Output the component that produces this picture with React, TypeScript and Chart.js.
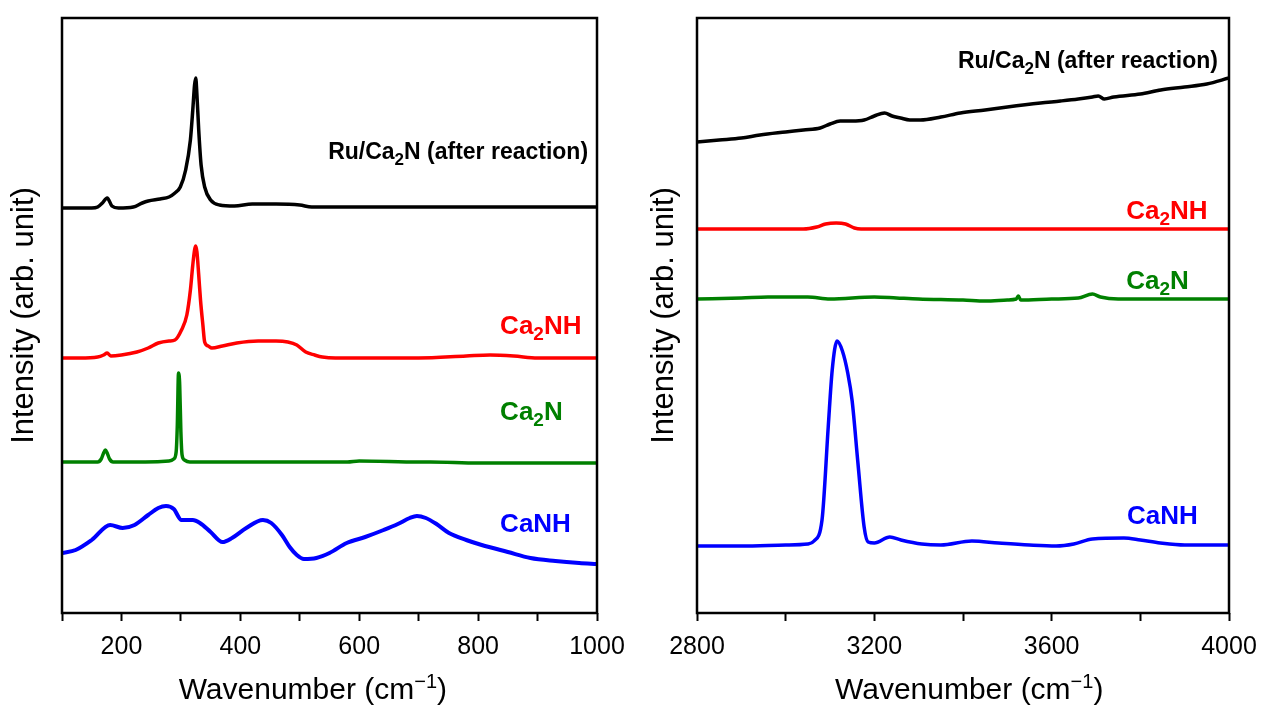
import React, { useEffect, useRef } from 'react';
import { Chart, registerables } from 'chart.js';
Chart.register(...registerables);

// ---------- Left panel (low wavenumber) ----------
const L_RU_X = [100,130,150,160,168,176,184,195,220,235,245,265,280,290,299,308,316,320,323,325,327,330,334,340,350,365,390,420,460,500,520,560,600,700,800,900,1000];
const L_RU_Y = [405,405,405,406,410,415,407,405,406,410,412,414,416,420,426,443,473,503,528,535,518,483,448,426,413,408,407,409,409,408,406,406,406,406,406,406,406];

const L_CA2NH_X = [100,130,160,170,176,182,200,226,245,262,280,290,301,310,316,320,323,325,327,330,333,337,340,346,352,370,394,430,460,480,495,510,525,538,560,600,700,780,820,860,900,1000];
const L_CA2NH_Y = [255,255,256,258,260,257,258,261,265,270,272,273,283,298,323,348,363,367,361,338,313,288,271,267,265,267,270,272,272,271,268,261,258,256,255,255,255,257,258,257,255,255];

const L_CA2N_X = [100,140,160,166,170,173,176,180,186,240,280,288,292,294,296,298,300,302,306,315,400,580,600,700,720,800,1000];
const L_CA2N_Y = [151,151,151,154,160,163,160,154,151,151,152,154,161,188,240,228,181,158,153,151,151,151,152,151,151,150,150];

const L_CANH_X = [100,123,150,181,202,222,245,262,275,288,301,320,332,350,370,386,410,438,452,470,483,495,507,528,550,579,610,641,665,685,697,712,730,751,780,806,850,888,930,970,1000];
const L_CANH_Y = [60,63,73,88,85,88,98,105,107,104,93,93,90,81,71,75,85,93,90,78,66,58,54,55,60,70,76,83,89,95,97,95,89,80,73,68,61,55,52,50,49];

// ---------- Right panel (high wavenumber) ----------
const R_RU_X = [2800,2850,2900,2942,3000,3040,3078,3100,3123,3150,3177,3200,3223,3240,3259,3280,3304,3350,3394,3450,3500,3575,3620,3660,3692,3705,3719,3740,3800,3846,3900,3950,4000];
const R_RU_Y = [471,473,475,478,481,483,485,489,492,492,493,497,500,497,495,493,493,496,500,503,506,510,512,514,516,517,514,516,519,523,526,529,535];

const R_CA2NH_X = [2800,3000,3040,3070,3090,3114,3135,3155,3170,3200,3500,3800,4000];
const R_CA2NH_Y = [384,384,384,386,389,390,389,385,384,384,384,384,384];

const R_CA2N_X = [2800,2900,2960,3000,3050,3100,3200,3250,3300,3400,3450,3500,3520,3525,3530,3600,3660,3692,3710,3750,3850,4000];
const R_CA2N_Y = [314,315,316,316,316,314,316,315,314,313,312,313,314,317,313,314,315,319,316,314,314,314];

const R_CANH_X = [2800,2900,3000,3050,3064,3082,3096,3105,3116,3128,3140,3150,3163,3177,3186,3200,3235,3260,3307,3350,3420,3480,3550,3610,3650,3692,3763,3800,3845,3900,4000];
const R_CANH_Y = [67,67,68,69,72,93,186,243,272,262,240,212,150,86,71,70,76,73,69,68,72,70,68,67,69,74,75,73,70,68,68];

// ---------- Axis ranges / ticks ----------
const Y_MIN = 0;
const Y_MAX = 595;
const L_X_RANGE = [100, 1000];
const R_X_RANGE = [2800, 4000];
const L_TICK_STEP = 100;
const L_LABEL_STEP = 200;
const R_TICK_STEP = 200;
const R_LABEL_STEP = 400;

// ---------- Text ----------
const Y_TITLE = 'Intensity (arb. unit)';
const X_TITLE_PARTS: [string, boolean][] = [['Wavenumber (cm', false], ['\u22121', true], [')', false]];
const L_X_TITLE_AT = 522;
const R_X_TITLE_AT = 3414;

const L_LABELS = [
  { x: 985, y: 460, align: 'right', size: 23, color: '#000000', parts: [['Ru/Ca', false], ['2', true], ['N (after reaction)', false]] },
  { x: 837, y: 286, align: 'left', size: 26, color: '#ff0000', parts: [['Ca', false], ['2', true], ['NH', false]] },
  { x: 837, y: 200, align: 'left', size: 26, color: '#008000', parts: [['Ca', false], ['2', true], ['N', false]] },
  { x: 837, y: 88, align: 'left', size: 26, color: '#0000ff', parts: [['CaNH', false]] },
];
const R_LABELS = [
  { x: 3975, y: 551, align: 'right', size: 23, color: '#000000', parts: [['Ru/Ca', false], ['2', true], ['N (after reaction)', false]] },
  { x: 3768, y: 401, align: 'left', size: 26, color: '#ff0000', parts: [['Ca', false], ['2', true], ['NH', false]] },
  { x: 3768, y: 331, align: 'left', size: 26, color: '#008000', parts: [['Ca', false], ['2', true], ['N', false]] },
  { x: 3770, y: 96, align: 'left', size: 26, color: '#0000ff', parts: [['CaNH', false]] },
];

const FONT = "'Liberation Sans', Arial, Helvetica, sans-serif";

const zip = (xs: number[], ys: number[]) => xs.map((x, i) => ({ x, y: ys[i] }));

const framePlugin = {
  id: 'frame',
  afterDraw(chart: any) {
    const { ctx, chartArea } = chart;
    ctx.save();
    ctx.strokeStyle = '#000';
    ctx.lineWidth = 2.5;
    ctx.strokeRect(chartArea.left, chartArea.top, chartArea.right - chartArea.left, chartArea.bottom - chartArea.top);
    ctx.restore();
  },
};

const labelPlugin = {
  id: 'subLabels',
  afterDraw(chart: any, _args: any, opts: any) {
    const { ctx, scales, chartArea } = chart;
    const items = opts.items || [];
    ctx.save();
    ctx.textBaseline = 'middle';
    ctx.textAlign = 'left';
    for (const it of items) {
      const size = it.size;
      const subSize = Math.round(size * 0.72);
      let w = 0;
      for (const [t, sub] of it.parts) {
        ctx.font = `bold ${sub ? subSize : size}px ${FONT}`;
        w += ctx.measureText(t).width;
      }
      const px = scales.x.getPixelForValue(it.x);
      const py = scales.y.getPixelForValue(it.y);
      let x = it.align === 'right' ? px - w : px;
      ctx.fillStyle = it.color;
      for (const [t, sub] of it.parts) {
        ctx.font = `bold ${sub ? subSize : size}px ${FONT}`;
        ctx.fillText(t, x, sub ? py + size * 0.3 : py);
        x += ctx.measureText(t).width;
      }
    }
    // x-axis title with superscript
    const tsize = 30;
    const supSize = 20;
    let tw = 0;
    for (const [t, sup] of X_TITLE_PARTS) {
      ctx.font = `${sup ? supSize : tsize}px ${FONT}`;
      tw += ctx.measureText(t).width;
    }
    let tx = scales.x.getPixelForValue(opts.titleAt) - tw / 2;
    const ty = chartArea.bottom + 78;
    ctx.fillStyle = '#000';
    for (const [t, sup] of X_TITLE_PARTS) {
      ctx.font = `${sup ? supSize : tsize}px ${FONT}`;
      ctx.fillText(t, tx, sup ? ty - 9 : ty);
      tx += ctx.measureText(t).width;
    }
    ctx.restore();
  },
};

function makeConfig(
  series: { x: number[]; y: number[]; color: string; width: number }[],
  xRange: number[],
  tickStep: number,
  labelStep: number,
  yAxisWidth: number,
  rightPad: number,
  labels: any[],
  titleAt: number
): any {
  return {
    type: 'line',
    data: {
      datasets: series.map((s) => ({
        data: zip(s.x, s.y),
        borderColor: s.color,
        borderWidth: s.width,
        pointRadius: 0,
        fill: false,
        cubicInterpolationMode: 'monotone',
      })),
    },
    options: {
      animation: false,
      responsive: false,
      layout: { padding: { top: 18, right: rightPad, bottom: 0, left: 0 } },
      plugins: {
        legend: { display: false },
        tooltip: { enabled: false },
        subLabels: { items: labels, titleAt },
      },
      scales: {
        x: {
          type: 'linear',
          min: xRange[0],
          max: xRange[1],
          border: { display: false },
          grid: {
            display: true,
            drawOnChartArea: false,
            drawTicks: true,
            tickLength: 8,
            tickWidth: 2,
            tickColor: '#000',
            color: '#000',
          },
          ticks: {
            stepSize: tickStep,
            autoSkip: false,
            maxRotation: 0,
            padding: 11,
            color: '#000',
            font: { family: FONT, size: 25 },
            callback: (v: number) => (v % labelStep === 0 ? String(v) : ''),
          },
          title: { display: false },
          afterFit: (scale: any) => {
            scale.height = 104;
            scale.paddingLeft = 0;
            scale.paddingRight = 0;
          },
        },
        y: {
          type: 'linear',
          min: Y_MIN,
          max: Y_MAX,
          border: { display: false },
          grid: { display: false },
          ticks: { display: false },
          title: {
            display: true,
            text: Y_TITLE,
            color: '#000',
            font: { family: FONT, size: 31 },
            padding: { top: 6, bottom: 0 },
          },
          afterFit: (scale: any) => {
            scale.width = yAxisWidth;
          },
        },
      },
    },
    plugins: [framePlugin, labelPlugin],
  };
}

function Panel(props: { width: number; left: number; cfg: any }) {
  const ref = useRef<HTMLCanvasElement | null>(null);
  useEffect(() => {
    if (!ref.current) return;
    const chart = new Chart(ref.current, props.cfg);
    return () => chart.destroy();
  }, []);
  return (
    <canvas
      ref={ref}
      width={props.width}
      height={717}
      style={{ position: 'absolute', left: props.left, top: 0, width: props.width, height: 717 }}
    />
  );
}

export default function App() {
  const leftCfg = makeConfig(
    [
      { x: L_RU_X, y: L_RU_Y, color: '#000000', width: 3.5 },
      { x: L_CA2NH_X, y: L_CA2NH_Y, color: '#ff0000', width: 3.5 },
      { x: L_CA2N_X, y: L_CA2N_Y, color: '#008000', width: 3.5 },
      { x: L_CANH_X, y: L_CANH_Y, color: '#0000ff', width: 4 },
    ],
    L_X_RANGE,
    L_TICK_STEP,
    L_LABEL_STEP,
    62,
    43,
    L_LABELS,
    L_X_TITLE_AT
  );
  const rightCfg = makeConfig(
    [
      { x: R_RU_X, y: R_RU_Y, color: '#000000', width: 3.5 },
      { x: R_CA2NH_X, y: R_CA2NH_Y, color: '#ff0000', width: 3.5 },
      { x: R_CA2N_X, y: R_CA2N_Y, color: '#008000', width: 3.5 },
      { x: R_CANH_X, y: R_CANH_Y, color: '#0000ff', width: 3.5 },
    ],
    R_X_RANGE,
    R_TICK_STEP,
    R_LABEL_STEP,
    57,
    36,
    R_LABELS,
    R_X_TITLE_AT
  );
  return (
    <div style={{ position: 'absolute', left: 0, top: 0, width: 1265, height: 717, background: '#fff' }}>
      <Panel width={640} left={0} cfg={leftCfg} />
      <Panel width={625} left={640} cfg={rightCfg} />
    </div>
  );
}
